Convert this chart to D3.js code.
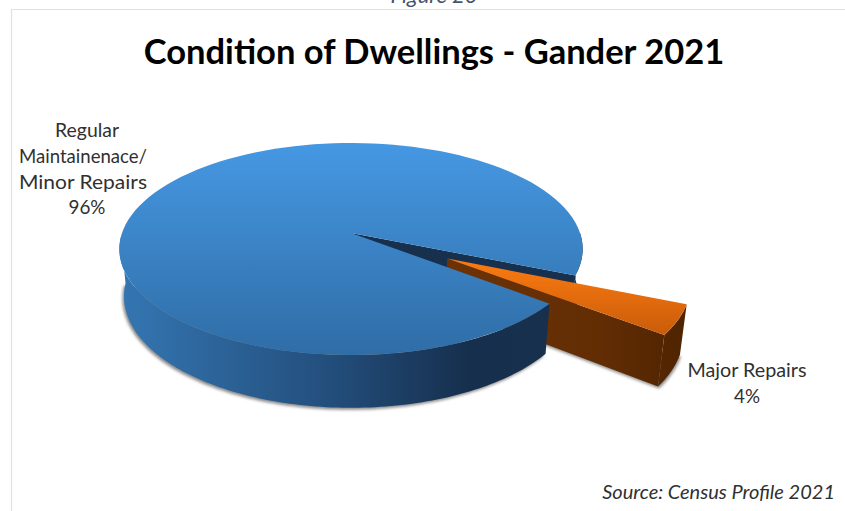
<!DOCTYPE html>
<html><head><meta charset="utf-8">
<script src="https://cdn.jsdelivr.net/npm/d3@7"></script>
<style>html,body{margin:0;padding:0;background:#fff;overflow:hidden}svg{display:block}text{font-family:Lato,"Open Sans",sans-serif}</style>
</head><body><svg id="c" width="845" height="511"></svg>
<script>
const categories = ["Major Repairs", "Regular Maintainenace/ Minor Repairs"];
const values = [4.3, 95.7];
const percentLabels = ["4%", "96%"];
const titleText = "Condition of Dwellings - Gander 2021";
const figureText = "Figure 20";
const sourceText = "Source: Census Profile 2021";
const firstSliceDeg = 112.7;
const explosion = [0.47, 0];

const svg = d3.select("#c");
const defs = svg.append("defs");
function grad(id, x1, y1, x2, y2, stops) {
  const g = defs.append("linearGradient").attr("id", id).attr("gradientUnits", "userSpaceOnUse")
    .attr("x1", x1).attr("y1", y1).attr("x2", x2).attr("y2", y2);
  stops.forEach(s => g.append("stop").attr("offset", s[0]).attr("stop-color", s[1]));
}
grad("faceBlue", 0, 143, 0, 355, [[0, "#4698e3"], [1, "#2f6da6"]]);
grad("sideBlue", 122, 0, 530, 0, [[0, "#3476b2"], [0.5, "#234f7d"], [0.85, "#162f4d"], [1, "#17304e"]]);
grad("faceOrange", 0, 262, 0, 335, [[0, "#fb7a10"], [1, "#c95c0a"]]);
grad("sideOrange", 470, 0, 685, 0, [[0, "#6a3205"], [0.6, "#632d04"], [1, "#4e2400"]]);
defs.append("filter").attr("id", "soft").attr("x", "-10%").attr("y", "-10%").attr("width", "120%").attr("height", "120%")
  .append("feGaussianBlur").attr("stdDeviation", 1.6);

// perspective projection of the unit disc onto the page
const cx = 351, cy = 233, R = 229, S = 103.6, k = 0.151;
function project(u, v, bottom) {
  const w = 1 - k * v;
  let x = cx + R * u / w, y = cy + S * v / w;
  if (bottom) {
    const dy = 50 + (y - 300) * 0.05;
    x = cx + (x - cx) * 0.98;
    y = y + dy;
  }
  return [x, y];
}
const pie = d3.pie().sort(null).value(d => d)
  .startAngle(firstSliceDeg * Math.PI / 180)
  .endAngle((firstSliceDeg + 360) * Math.PI / 180);
const arcs = pie(values).map((a, i) => {
  const mid = (a.startAngle + a.endAngle) / 2;
  return { a0: a.startAngle, a1: a.endAngle,
    ox: explosion[i] * Math.sin(mid), oy: -explosion[i] * Math.cos(mid) };
});
const rimPt = (s, t, bottom) => project(s.ox + Math.sin(t), s.oy - Math.cos(t), bottom);
const tipPt = (s, bottom) => project(s.ox, s.oy, bottom);
function rim(s, t0, t1, bottom) { return d3.range(0, 121).map(i => rimPt(s, t0 + (t1 - t0) * i / 120, bottom)); }
const line = d3.line().curve(d3.curveLinear);
const closed = pts => line(pts) + "Z";

const [orange, blue] = arcs;
const rad = d => d * Math.PI / 180;
const sideEnd = rad(268);           // left limit of the visible wall of the main slice

// frame
svg.append("path").attr("d", "M845,9.5H11.5V511").attr("fill", "none").attr("stroke", "#dde2ea").attr("stroke-width", 1.2);
svg.append("text").attr("x", 434).attr("y", 3).attr("text-anchor", "middle")
  .attr("font-size", 22).attr("font-style", "italic").attr("fill", "#44546a").text(figureText);

// soft shadows
svg.append("path").attr("d", closed(rim(blue, blue.a0, sideEnd, true)))
  .attr("transform", "translate(-1.5,2)").attr("fill", "#8a8a8a").attr("filter", "url(#soft)");
svg.append("path").attr("d", closed([tipPt(orange, true), ...rim(orange, orange.a0, orange.a1, true)]))
  .attr("transform", "translate(1,2)").attr("fill", "#8a8a8a").attr("filter", "url(#soft)");

// cut wall and short rim of the main slice, behind the exploded slice
svg.append("path").attr("d", closed([tipPt(blue), rimPt(blue, blue.a1), rimPt(blue, blue.a1, true), tipPt(blue, true)])).attr("fill", "#17304e");
svg.append("path").attr("d", closed([...rim(blue, rad(450), blue.a1), ...rim(blue, blue.a1, rad(450), true)])).attr("fill", "#17304e");

// exploded slice
svg.append("path").attr("d", closed([tipPt(orange), rimPt(orange, orange.a1), rimPt(orange, orange.a1, true), tipPt(orange, true)])).attr("fill", "url(#sideOrange)");
svg.append("path").attr("d", closed([...rim(orange, orange.a0, orange.a1), ...rim(orange, orange.a1, orange.a0, true)])).attr("fill", "url(#sideOrange)");
svg.append("path").attr("d", closed([tipPt(orange), ...rim(orange, orange.a0, orange.a1)])).attr("fill", "url(#faceOrange)");

// main slice
svg.append("path").attr("d", closed([...rim(blue, blue.a0, sideEnd), ...rim(blue, sideEnd, blue.a0, true)]))
  .attr("fill", "url(#sideBlue)");
svg.append("path").attr("d", closed([tipPt(blue), ...rim(blue, blue.a0, blue.a1)])).attr("fill", "url(#faceBlue)");

// text
svg.append("text").attr("x", 434).attr("y", 64).attr("text-anchor", "middle")
  .attr("font-size", 34.5).attr("font-weight", 700).attr("fill", "#000").text(titleText);
const lab = (x, y, t, w) => svg.append("text").attr("x", x).attr("y", y).attr("text-anchor", "middle")
  .attr("font-size", 19).attr("fill", "#303030").attr("textLength", w).attr("lengthAdjust", "spacingAndGlyphs").text(t);
lab(87, 137, "Regular", 64);
lab(83, 163, "Maintainenace/", 128);
lab(83, 189, "Minor Repairs", 128);
lab(87, 214, percentLabels[1], 37);
lab(747, 377, categories[0], 119);
lab(747, 403, percentLabels[0], 26);
svg.append("text").attr("x", 835).attr("y", 499).attr("text-anchor", "end")
  .attr("font-size", 20).attr("font-style", "italic").attr("fill", "#303030").text(sourceText);
</script></body></html>
